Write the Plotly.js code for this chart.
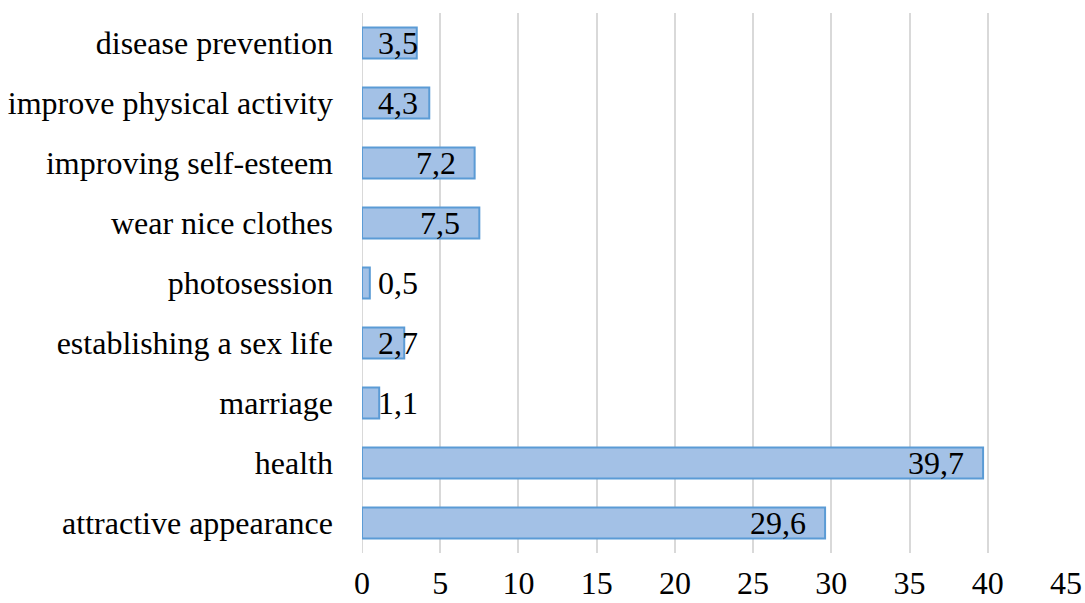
<!DOCTYPE html>
<html>
<head>
<meta charset="utf-8">
<script src="https://cdn.plot.ly/plotly-3.0.1.min.js"></script>
<style>html,body{margin:0;padding:0;background:#fff;}#chart{width:1085px;height:603px;}</style>
</head>
<body>
<div id="chart"></div>
<script>
const categories = [
  "attractive appearance",
  "health",
  "marriage",
  "establishing a sex life",
  "photosession",
  "wear nice clothes",
  "improving self-esteem",
  "improve physical activity",
  "disease prevention"
];
const values = [29.6, 39.7, 1.1, 2.7, 0.5, 7.5, 7.2, 4.3, 3.5];
const labels = values.map(v => v.toFixed(1).replace('.', ','));

const FONT = "Liberation Serif";

const trace = {
  type: 'bar',
  orientation: 'h',
  y: categories,
  x: values,
  width: 0.52,
  marker: { color: '#a3c1e6', line: { color: '#5b9bd5', width: 2 } },
  hoverinfo: 'none'
};

// Excel "inside end" labels: right edge 17px before bar end, clamped near the axis for short bars
const annotations = values.map((v, i) => {
  const clamp = v < 4.5;
  return {
    x: clamp ? 0 : v, y: categories[i], xref: 'x', yref: 'y',
    text: labels[i], showarrow: false,
    xanchor: clamp ? 'left' : 'right',
    xshift: clamp ? 14 : -17,
    font: { family: FONT, size: 32, color: '#000' }
  };
});

const layout = {
  width: 1085, height: 603,
  margin: { l: 362, r: 19, t: 13, b: 50, pad: 0 },
  paper_bgcolor: '#fff', plot_bgcolor: '#fff',
  showlegend: false,
  font: { family: FONT, size: 32, color: '#000' },
  xaxis: {
    range: [0, 45], tickvals: [0,5,10,15,20,25,30,35,40,45],
    showgrid: true, gridcolor: '#d9d9d9', gridwidth: 2,
    zeroline: false, showline: false, ticks: '',
    ticklabelstandoff: 8,
    tickfont: { family: FONT, size: 32, color: '#000' },
    fixedrange: true
  },
  yaxis: {
    type: 'category', showgrid: false, zeroline: false, showline: false, ticks: '',
    ticklabelstandoff: 28,
    tickfont: { family: FONT, size: 32, color: '#000' },
    fixedrange: true
  },
  annotations: annotations,
  shapes: [{ type: 'line', xref: 'x', yref: 'paper', x0: 0, x1: 0, y0: 0, y1: 1, line: { color: '#d9d9d9', width: 2 }, layer: 'below' }]
};

Plotly.newPlot('chart', [trace], layout, { staticPlot: true, displayModeBar: false });
</script>
</body>
</html>
